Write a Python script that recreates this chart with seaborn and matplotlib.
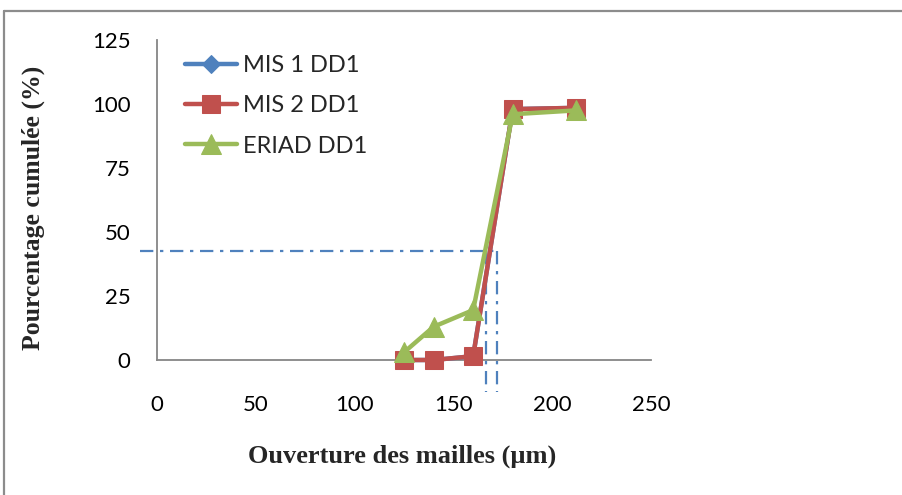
import matplotlib
matplotlib.use("Agg")
import matplotlib.pyplot as plt
from matplotlib.lines import Line2D
import seaborn as sns
import pandas as pd

# Sieve openings (µm) and cumulative passing (%)
openings = [125, 140, 160, 180, 212]
mis1_dd1 = [0, 0, 1.5, 98, 98.5]
mis2_dd1 = [0, 0, 1.5, 98, 98.5]
eriad_dd1 = [3, 13, 19.5, 96, 97.5]
series_names = ["MIS 1 DD1", "MIS 2 DD1", "ERIAD DD1"]

# Reading guides for the 50 % passing size
guide_y = 42.5
guide_x = [166.5, 172]

x_ticks = [0, 50, 100, 150, 200, 250]
y_ticks = [0, 25, 50, 75, 100, 125]

sns.set_theme(style="white")
plt.rcParams["font.family"] = ["Lato", "DejaVu Sans"]

df = pd.DataFrame({
    "opening": openings * 3,
    "value": mis1_dd1 + mis2_dd1 + eriad_dd1,
    "series": [series_names[0]] * 5 + [series_names[1]] * 5 + [series_names[2]] * 5,
})

fig = plt.figure(figsize=(9.02, 4.95), dpi=100)
ax = fig.add_axes([157 / 902, 1 - 360 / 495, (651 - 157) / 902, (360 - 40) / 495])

palette = {"MIS 1 DD1": "#4F81BD", "MIS 2 DD1": "#C0504D", "ERIAD DD1": "#9BBB59"}
markers = {"MIS 1 DD1": "D", "MIS 2 DD1": "s", "ERIAD DD1": "^"}
msizes = {"MIS 1 DD1": 9.5, "MIS 2 DD1": 13, "ERIAD DD1": 15}

for name in series_names:
    sub = df[df["series"] == name]
    sns.lineplot(data=sub, x="opening", y="value", ax=ax, color=palette[name],
                 marker=markers[name], markersize=msizes[name],
                 markeredgecolor=palette[name], linewidth=3.2, label=name,
                 clip_on=False, zorder=3)

# Dash-dot reading lines
ax.plot([-8.6, guide_x[1]], [guide_y, guide_y], color="#4F81BD", lw=1.6,
        ls=(0, (6, 3, 1.5, 3)), clip_on=False, zorder=2)
for gx in guide_x:
    ax.plot([gx, gx], [guide_y, -12.5], color="#4F81BD", lw=1.6,
            ls=(0, (6, 3, 1.5, 3)), clip_on=False, zorder=2)

ax.set_xlim(0, 250)
ax.set_ylim(0, 125)
ax.set_xticks(x_ticks)
ax.set_yticks(y_ticks)
ax.tick_params(axis="both", length=0, labelsize=16, colors="black")
ax.tick_params(axis="x", pad=25)
ax.tick_params(axis="y", pad=19)
for s in ["top", "right"]:
    ax.spines[s].set_visible(False)
for s in ["left", "bottom"]:
    ax.spines[s].set_color("#868686")
    ax.spines[s].set_linewidth(1.3)

ax.set_xlabel("")
ax.set_ylabel("")
fig.text(402 / 902, 1 - 456 / 495, "Ouverture des mailles (µm)", ha="center", va="center",
         fontsize=19, fontweight="bold", family="Liberation Serif")
fig.text(33 / 902, 1 - 208 / 495, "Pourcentage cumulée (%)", ha="center", va="center",
         rotation=90, fontsize=18.5, fontweight="bold", family="Liberation Serif")

ax.legend(loc="upper left", bbox_to_anchor=(173 / 902, 1 - 43 / 495),
          bbox_transform=fig.transFigure, frameon=False, fontsize=17,
          handlelength=2.2, labelspacing=0.82, handletextpad=0.25, borderpad=0)

# Outer chart frame
fig.add_artist(Line2D([4 / 902, 1], [1 - 11 / 495] * 2, transform=fig.transFigure,
                      color="#8C8C8C", lw=1.6))
fig.add_artist(Line2D([4 / 902] * 2, [0, 1 - 11 / 495], transform=fig.transFigure,
                      color="#8C8C8C", lw=1.6))

fig.savefig("out.png", dpi=100)
